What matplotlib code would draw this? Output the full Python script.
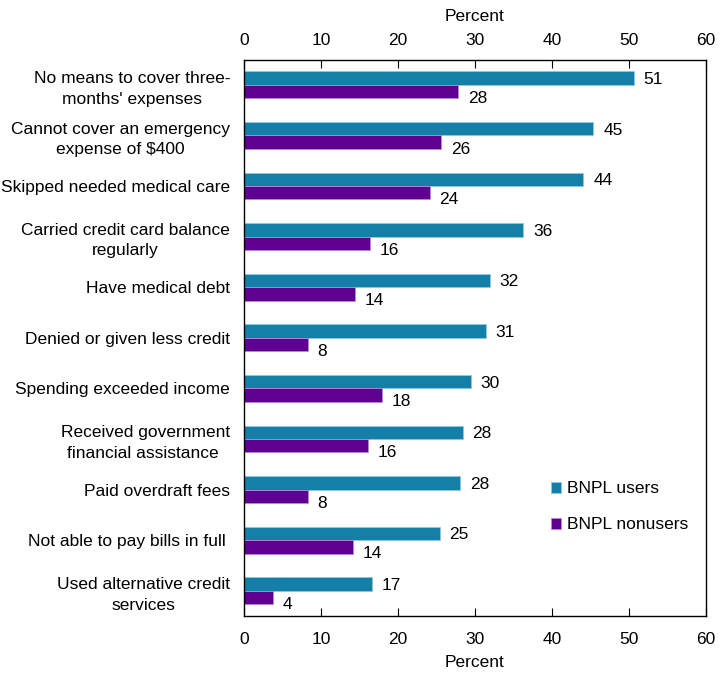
import numpy as np
import matplotlib.pyplot as plt
import matplotlib as mpl
import matplotlib.transforms as mtransforms

mpl.rcParams['font.family'] = ['Liberation Sans', 'DejaVu Sans']

categories = [
    "No means to cover three-\nmonths' expenses",
    "Cannot cover an emergency\nexpense of $400",
    "Skipped needed medical care",
    "Carried credit card balance\nregularly",
    "Have medical debt",
    "Denied or given less credit",
    "Spending exceeded income",
    "Received government\nfinancial assistance ",
    "Paid overdraft fees",
    "Not able to pay bills in full ",
    "Used alternative credit\nservices",
]
users = [50.6, 45.4, 44.1, 36.3, 31.9, 31.4, 29.5, 28.4, 28.1, 25.4, 16.6]
nonusers = [27.8, 25.6, 24.1, 16.4, 14.4, 8.3, 17.9, 16.1, 8.3, 14.1, 3.8]

c_users = '#1480A8'
c_non = '#5F0090'

fig = plt.figure(figsize=(7.25, 6.78), dpi=100)
ax = fig.add_axes([0.3366, 0.0914, 0.637, 0.8208])

y = np.arange(len(categories))
h = 0.264
ax.barh(y - h / 2, users, height=h, color=c_users, edgecolor='#8CC8E0', linewidth=0.6, label='BNPL users')
ax.barh(y + h / 2, nonusers, height=h, color=c_non, edgecolor='#B58CD0', linewidth=0.6, label='BNPL nonusers')

for yi, v in zip(y, users):
    ax.annotate(f'{round(v)}', (v, yi - h / 2), xytext=(7, -1), textcoords='offset points',
                ha='left', va='center', fontsize=12.5)
for yi, v in zip(y, nonusers):
    ax.annotate(f'{round(v)}', (v, yi + h / 2), xytext=(7, -5), textcoords='offset points',
                ha='left', va='center', fontsize=12.5)

ax.set_xlim(0, 60)
ax.set_ylim(len(categories) - 0.5, -0.5)
ax.set_xticks(range(0, 61, 10))
ax.set_yticks(y)
ax.set_yticklabels(categories, multialignment='center', fontsize=12.5, linespacing=1.45)
ax.tick_params(axis='y', length=0, pad=10)
ax.tick_params(axis='x', direction='in', length=6, top=True, labeltop=True, labelsize=12.5, pad=8)

# bottom tick labels sit a bit lower than the top ones
shift = mtransforms.ScaledTranslation(0, -3.5 / 72, fig.dpi_scale_trans)
for t in ax.xaxis.get_major_ticks():
    t.label1.set_transform(t.label1.get_transform() + shift)

ax.set_xlabel('Percent', fontsize=12.5, labelpad=6)
sec = ax.secondary_xaxis('top')
sec.set_xticks([])
sec.set_xlabel('Percent', fontsize=12.5, labelpad=28)
sec.spines['top'].set_visible(False)

for s in ax.spines.values():
    s.set_linewidth(1.0)

ax.legend(loc='upper left', bbox_to_anchor=(0.631, 0.27), frameon=False, fontsize=12.5,
          handlelength=0.6, handleheight=0.6, handletextpad=0.3, labelspacing=1.2)

plt.savefig('out.png', dpi=100)
